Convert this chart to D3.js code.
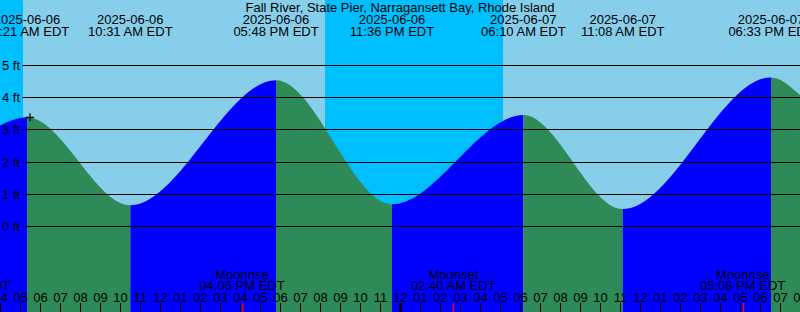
<!DOCTYPE html>
<html>
<head>
<meta charset="utf-8">
<script src="https://cdn.jsdelivr.net/npm/d3@7"></script>
<style>
  html, body { margin: 0; padding: 0; background: #fff; }
  svg { display: block; font-family: "Liberation Sans", Arial, sans-serif; font-size: 13px; }
</style>
</head>
<body>
<svg id="tide" width="800" height="312"></svg>
<script>
// tide curve: edge values + highs/lows (local time EDT)
var tideTimes   = ["2025-06-06 04:00", "2025-06-06 05:21", "2025-06-06 10:31", "2025-06-06 17:48",
                   "2025-06-06 23:36", "2025-06-07 06:10", "2025-06-07 11:08", "2025-06-07 18:33",
                   "2025-06-07 20:00"];
var tideHeights = [3.14, 3.39, 0.66, 4.54, 0.69, 3.46, 0.54, 4.63, 4.08];

// header labels for the highs and lows
var eventTimes  = ["2025-06-06 05:21", "2025-06-06 10:31", "2025-06-06 17:48", "2025-06-06 23:36",
                   "2025-06-07 06:10", "2025-06-07 11:08", "2025-06-07 18:33"];
var eventDates  = ["2025-06-06", "2025-06-06", "2025-06-06", "2025-06-06", "2025-06-07", "2025-06-07", "2025-06-07"];
var eventClock  = ["05:21 AM EDT", "10:31 AM EDT", "05:48 PM EDT", "11:36 PM EDT", "06:10 AM EDT", "11:08 AM EDT", "06:33 PM EDT"];

// sun
var sunriseTimes = ["2025-06-06 05:09", "2025-06-07 05:09"];
var sunsetTimes  = ["2025-06-05 20:14", "2025-06-06 20:15", "2025-06-07 20:16"];

// moon
var moonTimes  = ["2025-06-06 02:24", "2025-06-06 16:06", "2025-06-07 02:40", "2025-06-07 17:08"];
var moonNames  = ["Moonset", "Moonrise", "Moonset", "Moonrise"];
var moonClock  = ["02:24 AM EDT", "04:06 PM EDT", "02:40 AM EDT", "05:08 PM EDT"];

var heightTicks = [0, 1, 2, 3, 4, 5];
var markTime = "2025-06-06 05:30", markHeight = 3.39;

var title = "Fall River, State Pier, Narragansett Bay, Rhode Island";

var parse = d3.timeParse("%Y-%m-%d %H:%M");
var W = 800, H = 312;
var svg = d3.select("#tide");

var x = d3.scaleTime()
    .domain([parse("2025-06-06 04:00"), parse("2025-06-07 20:00")])
    .range([0, W]);
var y = d3.scaleLinear().domain([0, 5]).range([226.5, 65.5]);

// background day / night
svg.append("rect").attr("width", W).attr("height", H).attr("fill", "#87ceeb");
var nights = sunsetTimes.map(function(s, i) {
    var end = sunriseTimes[i] ? parse(sunriseTimes[i]) : x.domain()[1];
    return [parse(s), end];
});
svg.selectAll("rect.night").data(nights).enter().append("rect")
    .attr("class", "night")
    .attr("x", function(d) { return Math.max(0, x(d[0])); })
    .attr("width", function(d) { return Math.max(0, Math.min(W, x(d[1])) - Math.max(0, x(d[0]))); })
    .attr("y", 0).attr("height", H)
    .attr("fill", "#00bfff");

// tide fill, blue while rising, green while falling
var pts = tideTimes.map(function(t, i) { return { t: parse(t), h: tideHeights[i] }; });
var area = d3.area()
    .x(function(d) { return x(d.t); })
    .y0(H)
    .y1(function(d) { return y(d.h); })
    .curve(d3.curveMonotoneX);
var defs = svg.append("defs");
for (var i = 0; i < pts.length - 1; i++) {
    var x0 = x(pts[i].t), x1 = x(pts[i + 1].t);
    defs.append("clipPath").attr("id", "seg" + i)
        .append("rect").attr("x", x0).attr("width", x1 - x0).attr("y", 0).attr("height", H);
    svg.append("path").datum(pts)
        .attr("d", area)
        .attr("clip-path", "url(#seg" + i + ")")
        .attr("fill", pts[i + 1].h > pts[i].h ? "#0000ff" : "#2e8b57");
}

// height lines + labels
svg.selectAll("line.h").data(heightTicks).enter().append("line")
    .attr("x1", 22).attr("x2", W)
    .attr("y1", function(d) { return Math.floor(y(d)) + 0.5; })
    .attr("y2", function(d) { return Math.floor(y(d)) + 0.5; })
    .attr("stroke", "#000").attr("stroke-width", 1);
svg.selectAll("text.h").data(heightTicks).enter().append("text")
    .attr("x", 2).attr("y", function(d) { return y(d) + 4.5; })
    .text(function(d) { return d + " ft"; });

// "+" mark
var mx = x(parse(markTime)), my = y(markHeight);
svg.append("path")
    .attr("d", "M" + (mx - 4) + "," + my + "H" + (mx + 4) + "M" + mx + "," + (my - 4) + "V" + (my + 4))
    .attr("stroke", "#000").attr("stroke-width", 1.2);

// title and high/low labels
svg.append("text").attr("x", 400).attr("y", 11.5).attr("text-anchor", "middle").text(title);
var ev = svg.selectAll("g.ev").data(eventTimes).enter().append("g")
    .attr("transform", function(d) { return "translate(" + x(parse(d)) + ",0)"; })
    .attr("text-anchor", "middle");
ev.append("text").attr("y", 24).text(function(d, i) { return eventDates[i]; });
ev.append("text").attr("y", 36).text(function(d, i) { return eventClock[i]; });

// moon labels
var mo = svg.selectAll("g.mo").data(moonTimes).enter().append("g")
    .attr("transform", function(d) { return "translate(" + x(parse(d)) + ",0)"; })
    .attr("text-anchor", "middle");
mo.append("text").attr("y", 278.5).text(function(d, i) { return moonNames[i]; });
mo.append("text").attr("y", 290).text(function(d, i) { return moonClock[i]; });

// hour axis
var hours = d3.timeHour.range(parse("2025-06-06 04:00"), parse("2025-06-07 20:01"));
var fmt = d3.timeFormat("%I");
svg.selectAll("text.hr").data(hours).enter().append("text")
    .attr("x", function(d) { return x(d) + 0.5; })
    .attr("y", 301.5)
    .attr("text-anchor", "middle")
    .text(fmt);
svg.selectAll("line.hr").data(hours).enter().append("line")
    .attr("x1", function(d) { return Math.round(x(d)) + 0.5; })
    .attr("x2", function(d) { return Math.round(x(d)) + 0.5; })
    .attr("y1", 303).attr("y2", H)
    .attr("stroke", "#000")
    .attr("stroke-width", function(d) { return d.getHours() === 0 ? 2.5 : 1; });
svg.selectAll("line.mo").data(moonTimes).enter().append("line")
    .attr("x1", function(d) { return Math.round(x(parse(d))) + 0.5; })
    .attr("x2", function(d) { return Math.round(x(parse(d))) + 0.5; })
    .attr("y1", 303).attr("y2", H)
    .attr("stroke", "#ff0000").attr("stroke-width", 1.5);
</script>
</body>
</html>
